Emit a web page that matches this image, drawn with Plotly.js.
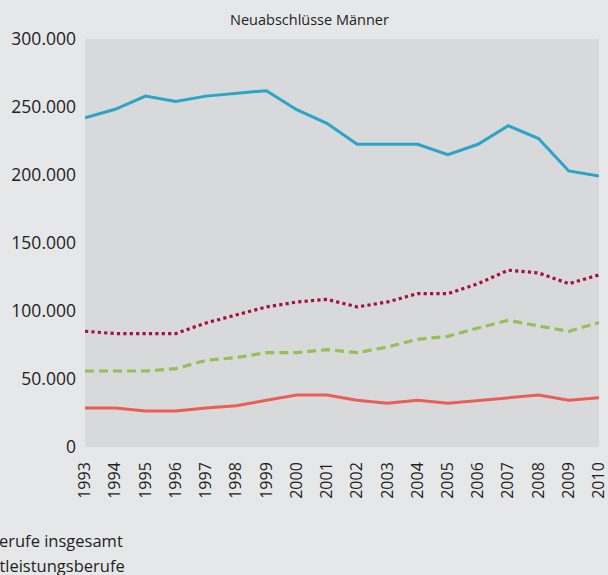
<!DOCTYPE html>
<html>
<head>
<meta charset="utf-8">
<script src="https://cdn.plot.ly/plotly-3.0.1.min.js"></script>
<style>
html,body{margin:0;padding:0;background:#e6e7e9;}
#chart{width:608px;height:575px;}
</style>
</head>
<body>
<div id="chart"></div>
<script>
// Data (Neuabschlüsse Männer)
var years = [1993,1994,1995,1996,1997,1998,1999,2000,2001,2002,2003,2004,2005,2006,2007,2008,2009,2010];
var insgesamt = [242000,248300,258000,254000,258000,260000,262000,248000,238000,222600,222600,222600,215000,222600,236300,226800,203000,199300];
var dienstleistung = [85100,83400,83400,83400,91200,96800,103000,106600,108600,103000,106600,112800,112800,120100,130000,128000,120100,126500];
var gruen = [55900,55900,55900,57600,63700,65700,69400,69400,71600,69400,73500,79200,81400,87500,93200,89000,85100,91500];
var rot = [28700,28700,26500,26500,28700,30400,34300,38200,38200,34300,32100,34300,32100,34300,36300,38200,34300,36300];
var seriesNames = ["Alle Berufe insgesamt", "Dienstleistungsberufe", "Produktionsberufe", "Sonstige Berufe"];
var legendTexts = ["Alle Berufe insgesamt", "Dienstleistungsberufe"];
var yTicks = [0,50000,100000,150000,200000,250000,300000];
var yGrid = [50000,100000,150000,200000,250000];

var FONT = "'Open Sans', sans-serif";
var traces = [
  {x: years, y: insgesamt, name: seriesNames[0], mode: 'lines', line: {color: '#2aa5c7', width: 3}},
  {x: years, y: dienstleistung, name: seriesNames[1], mode: 'lines', line: {color: '#a8103a', width: 3.2, dash: 'dot'}},
  {x: years, y: gruen, name: seriesNames[2], mode: 'lines', line: {color: '#94c058', width: 3.2, dash: '9px,5px'}},
  {x: years, y: rot, name: seriesNames[3], mode: 'lines', line: {color: '#ea5e58', width: 3}}
];

var annotations = legendTexts.map(function(t, i){
  return {text: t, xref: 'paper', yref: 'paper', x: 0.0785 + i*0.004, y: -0.229 - i*0.061,
          xanchor: 'right', yanchor: 'middle', showarrow: false,
          font: {family: FONT, size: 16.5, color: '#231f20'}};
});

var layout = {
  width: 608, height: 575,
  margin: {l: 85, r: 9, t: 39, b: 128},
  paper_bgcolor: '#e6e7e9',
  plot_bgcolor: '#d8d9db',
  separators: ',.',
  showlegend: false,
  title: {text: 'Neuabschlüsse Männer', x: 0.509, xref: 'container', xanchor: 'center',
          y: 0.965, yref: 'container', yanchor: 'middle',
          font: {family: FONT, size: 14.5, color: '#231f20'}},
  font: {family: FONT, color: '#231f20'},
  xaxis: {range: [1993, 2010], tickvals: years, ticktext: years.map(String), tickangle: -90,
          showgrid: false, zeroline: false, showline: false, ticks: '',
          ticklabelstandoff: 11, ticklabeloverflow: 'allow',
          tickfont: {family: FONT, size: 16, color: '#231f20'}},
  yaxis: {range: [0, 300000], tickvals: yTicks, tickformat: ',d',
          showgrid: false, zeroline: false, showline: false, ticks: '',
          ticklabelstandoff: 8,
          tickfont: {family: FONT, size: 17.5, color: '#231f20'}},
  yaxis2: {overlaying: 'y', side: 'left', range: [0, 300000], tickvals: yGrid,
          showticklabels: false, showgrid: true, gridcolor: '#eeeff0', gridwidth: 1.5,
          zeroline: false, showline: false, ticks: ''},
  annotations: annotations
};

Plotly.newPlot('chart', traces, layout, {displayModeBar: false, staticPlot: true});
</script>
</body>
</html>
